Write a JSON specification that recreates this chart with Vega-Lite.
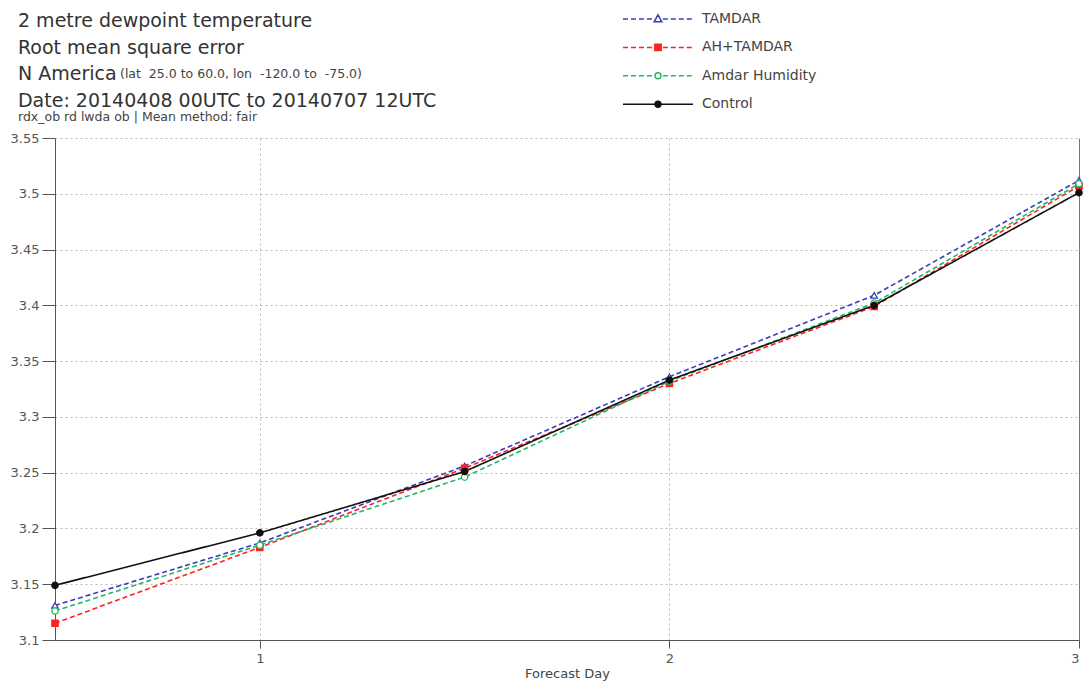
{
  "$schema": "https://vega.github.io/schema/vega-lite/v6.json",
  "autosize": "none",
  "width": 1024,
  "height": 502,
  "padding": {"left": 55, "top": 138, "right": 6, "bottom": 49},
  "background": "white",
  "config": {
    "font": "DejaVu Sans",
    "view": {"stroke": null},
    "axis": {
      "labelFont": "DejaVu Sans",
      "labelFontSize": 13,
      "labelColor": "#555",
      "domainColor": "#555",
      "tickColor": "#555",
      "gridColor": "#bbb",
      "gridDash": [2, 3],
      "titleFont": "DejaVu Sans",
      "titleFontWeight": "normal",
      "titleColor": "#444"
    },
    "legend": {
      "orient": "none",
      "legendX": 595,
      "legendY": -127,
      "title": null,
      "padding": 0,
      "symbolSize": 196,
      "symbolStrokeWidth": 1.5,
      "symbolOpacity": 1,
      "labelOffset": 36,
      "labelFont": "DejaVu Sans",
      "labelFontSize": 14,
      "labelColor": "#444",
      "rowPadding": 13.4
    }
  },
  "resolve": {
    "scale": {"shape": "independent", "fill": "independent", "stroke": "independent"},
    "legend": {"shape": "independent", "fill": "independent", "stroke": "independent"}
  },
  "datasets": {
    "rmse": [
      {"series": "TAMDAR", "day": 0.5, "rmse": 3.131},
      {"series": "TAMDAR", "day": 1.0, "rmse": 3.187},
      {"series": "TAMDAR", "day": 1.5, "rmse": 3.256},
      {"series": "TAMDAR", "day": 2.0, "rmse": 3.336},
      {"series": "TAMDAR", "day": 2.5, "rmse": 3.409},
      {"series": "TAMDAR", "day": 3.0, "rmse": 3.512},
      {"series": "AH+TAMDAR", "day": 0.5, "rmse": 3.115},
      {"series": "AH+TAMDAR", "day": 1.0, "rmse": 3.183},
      {"series": "AH+TAMDAR", "day": 1.5, "rmse": 3.254},
      {"series": "AH+TAMDAR", "day": 2.0, "rmse": 3.330},
      {"series": "AH+TAMDAR", "day": 2.5, "rmse": 3.399},
      {"series": "AH+TAMDAR", "day": 3.0, "rmse": 3.507},
      {"series": "Amdar Humidity", "day": 0.5, "rmse": 3.126},
      {"series": "Amdar Humidity", "day": 1.0, "rmse": 3.185},
      {"series": "Amdar Humidity", "day": 1.5, "rmse": 3.246},
      {"series": "Amdar Humidity", "day": 2.0, "rmse": 3.332},
      {"series": "Amdar Humidity", "day": 2.5, "rmse": 3.402},
      {"series": "Amdar Humidity", "day": 3.0, "rmse": 3.509},
      {"series": "Control", "day": 0.5, "rmse": 3.149},
      {"series": "Control", "day": 1.0, "rmse": 3.196},
      {"series": "Control", "day": 1.5, "rmse": 3.251},
      {"series": "Control", "day": 2.0, "rmse": 3.333},
      {"series": "Control", "day": 2.5, "rmse": 3.400},
      {"series": "Control", "day": 3.0, "rmse": 3.501}
    ],
    "heading": [
      {"lines": ["2 metre dewpoint temperature", "Root mean square error", "N America", "Date: 20140408 00UTC to 20140707 12UTC"]}
    ],
    "region": [
      {"note": "(lat \u00a025.0 to 60.0, lon \u00a0-120.0 to \u00a0-75.0)"}
    ],
    "method": [
      {"note": "rdx_ob rd lwda ob | Mean method: fair"}
    ]
  },
  "layer": [
    {
      "data": {"name": "rmse"},
      "mark": {"type": "line", "strokeWidth": 1.6, "clip": false},
      "encoding": {
        "x": {
          "field": "day",
          "type": "quantitative",
          "scale": {"domain": [0.5, 3], "nice": false, "zero": false},
          "axis": {
            "values": [1, 2, 3],
            "format": "d",
            "title": "Forecast Day",
            "titleFontSize": 13,
            "titlePadding": 2,
            "tickSize": 8,
            "labelPadding": 4,
            "gridDash": {"condition": {"test": "datum.value === 3", "value": []}, "value": [2, 3]},
            "gridColor": {"condition": {"test": "datum.value === 3", "value": "#777"}, "value": "#bbb"}
          }
        },
        "y": {
          "field": "rmse",
          "type": "quantitative",
          "scale": {"domain": [3.1, 3.55], "nice": false, "zero": false},
          "axis": {
            "values": [3.1, 3.15, 3.2, 3.25, 3.3, 3.35, 3.4, 3.45, 3.5, 3.55],
            "format": ".2~f",
            "title": null,
            "tickSize": 13,
            "labelPadding": 3
          }
        },
        "color": {
          "field": "series",
          "type": "nominal",
          "scale": {
            "domain": ["TAMDAR", "AH+TAMDAR", "Amdar Humidity", "Control"],
            "range": ["#3d3db8", "#ff2222", "#22b866", "#111111"]
          },
          "legend": null
        },
        "strokeDash": {
          "field": "series",
          "type": "nominal",
          "scale": {
            "domain": ["TAMDAR", "AH+TAMDAR", "Amdar Humidity", "Control"],
            "range": [[5, 3], [5, 3], [5, 3], [1, 0]]
          },
          "legend": null
        }
      }
    },
    {
      "data": {"name": "rmse"},
      "mark": {"type": "point", "size": 40, "strokeWidth": 1.3, "opacity": 1, "clip": false},
      "encoding": {
        "x": {"field": "day", "type": "quantitative"},
        "y": {"field": "rmse", "type": "quantitative"},
        "shape": {
          "field": "series",
          "type": "nominal",
          "scale": {
            "domain": ["TAMDAR", "AH+TAMDAR", "Amdar Humidity", "Control"],
            "range": ["triangle-up", "square", "circle", "circle"]
          },
          "legend": null
        },
        "stroke": {
          "field": "series",
          "type": "nominal",
          "scale": {
            "domain": ["TAMDAR", "AH+TAMDAR", "Amdar Humidity", "Control"],
            "range": ["#3d3db8", "#ff2222", "#22b866", "#111111"]
          },
          "legend": null
        },
        "fill": {
          "field": "series",
          "type": "nominal",
          "scale": {
            "domain": ["TAMDAR", "AH+TAMDAR", "Amdar Humidity", "Control"],
            "range": ["white", "#ff2222", "white", "#111111"]
          },
          "legend": null
        }
      }
    },
    {
      "data": {"name": "rmse"},
      "transform": [{"filter": "datum.day > 10"}],
      "mark": {"type": "point", "strokeWidth": 1.5, "opacity": 1},
      "encoding": {
        "shape": {
          "field": "series",
          "type": "nominal",
          "scale": {
            "domain": ["TAMDAR", "AH+TAMDAR", "Amdar Humidity", "Control"],
            "range": [
              "M-5,0L-4.29,0M-3.86,0L-3.15,0M-2.72,0L-2.01,0M-1.58,0L-0.87,0M0.7,0L1.41,0M1.84,0L2.55,0M2.98,0L3.69,0M4.12,0L4.83,0M0,-0.6L0.55,0.4L-0.55,0.4Z",
              "M-5,0L-4.29,0M-3.86,0L-3.15,0M-2.72,0L-2.01,0M-1.58,0L-0.87,0M0.7,0L1.41,0M1.84,0L2.55,0M2.98,0L3.69,0M4.12,0L4.83,0M-0.45,-0.45L0.45,-0.45L0.45,0.45L-0.45,0.45Z",
              "M-5,0L-4.29,0M-3.86,0L-3.15,0M-2.72,0L-2.01,0M-1.58,0L-0.87,0M0.7,0L1.41,0M1.84,0L2.55,0M2.98,0L3.69,0M4.12,0L4.83,0M-0.42,0A0.42,0.42 0 1,0 0.42,0A0.42,0.42 0 1,0 -0.42,0Z",
              "M-5,0L5,0M-0.42,0A0.42,0.42 0 1,0 0.42,0A0.42,0.42 0 1,0 -0.42,0Z"
            ]
          }
        },
        "stroke": {
          "field": "series",
          "type": "nominal",
          "scale": {
            "domain": ["TAMDAR", "AH+TAMDAR", "Amdar Humidity", "Control"],
            "range": ["#3d3db8", "#ff2222", "#22b866", "#111111"]
          }
        },
        "fill": {
          "field": "series",
          "type": "nominal",
          "scale": {
            "domain": ["TAMDAR", "AH+TAMDAR", "Amdar Humidity", "Control"],
            "range": ["white", "#ff2222", "white", "#111111"]
          }
        }
      }
    },
    {
      "data": {"name": "heading"},
      "mark": {"type": "text", "align": "left", "baseline": "alphabetic", "fontSize": 19, "lineHeight": 26.7, "color": "#333", "font": "DejaVu Sans", "clip": false},
      "encoding": {
        "x": {"datum": 0.40965, "type": "quantitative"},
        "y": {"datum": 3.6495, "type": "quantitative"},
        "text": {"field": "lines"}
      }
    },
    {
      "data": {"name": "region"},
      "mark": {"type": "text", "align": "left", "baseline": "alphabetic", "fontSize": 12.5, "color": "#444", "font": "DejaVu Sans", "clip": false},
      "encoding": {
        "x": {"datum": 0.6587, "type": "quantitative"},
        "y": {"datum": 3.6038, "type": "quantitative"},
        "text": {"field": "note"}
      }
    },
    {
      "data": {"name": "method"},
      "mark": {"type": "text", "align": "left", "baseline": "alphabetic", "fontSize": 12.5, "color": "#444", "font": "DejaVu Sans", "clip": false},
      "encoding": {
        "x": {"datum": 0.40965, "type": "quantitative"},
        "y": {"datum": 3.5652, "type": "quantitative"},
        "text": {"field": "note"}
      }
    }
  ]
}
